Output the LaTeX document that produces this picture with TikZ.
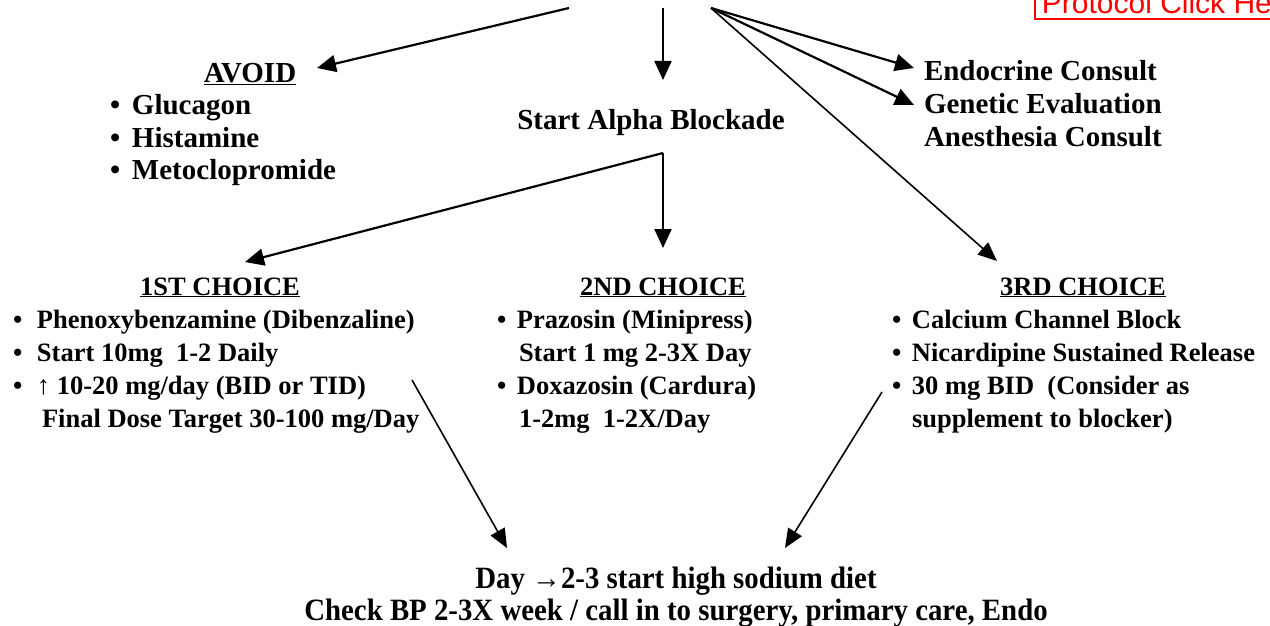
\documentclass[tikz,border=0pt]{standalone}
\usepackage{fontspec}
\usepackage{graphicx}
\setmainfont{Liberation Serif}
\newfontfamily\arialfont{Liberation Sans}
\usetikzlibrary{arrows.meta}
\newcommand\blt[1]{\makebox[#1][l]{•}}
\begin{document}
\begin{tikzpicture}[x=1pt,y=-1pt,
  txt/.style={inner sep=0pt, outer sep=0pt, font=\fontsize{29}{33}\selectfont\bfseries},
  ctxt/.style={inner sep=0pt, outer sep=0pt, font=\fontsize{26.5}{33}\selectfont\bfseries},
  btxt/.style={inner sep=0pt, outer sep=0pt, font=\fontsize{31}{33}\selectfont\bfseries},
  arr/.style={line width=2.2pt, -{Triangle[length=19pt,width=17pt]}},
  arrthin/.style={line width=1.6pt, -{Triangle[length=19pt,width=16pt]}},
]
\useasboundingbox (0,0) rectangle (1270,626);
\clip (0,0) rectangle (1270,626);

% red link box
\node[draw=red, line width=1.8pt, text=red, font=\arialfont\fontsize{30}{30}\selectfont,
  inner xsep=7pt, inner ysep=0pt, text depth=6pt, anchor=south west] (proto) at (1034,20) {Protocol Click Here};

% top group
\node[txt, anchor=base] (avoid) at (250,82) {\underline{AVOID}};
\node[txt, anchor=base west] (avoidlist) at (110,114) {\begin{tabular}[t]{@{}l@{}}\blt{22pt}Glucagon\\ \blt{22pt}Histamine\\ \blt{22pt}Metoclopromide\end{tabular}};
\node[txt, anchor=base] (alpha) at (651,129) {Start Alpha Blockade};
\node[txt, anchor=base west] (consult) at (924,81) {\begin{tabular}[t]{@{}l@{}}Endocrine Consult\\ Genetic Evaluation\\ Anesthesia Consult\end{tabular}};

% choices
\node[ctxt, anchor=base] (c1h) at (220,295) {\underline{1ST CHOICE}};
\node[ctxt, anchor=base west] (c1) at (13,328) {\begin{tabular}[t]{@{}l@{}}\blt{24pt}Phenoxybenzamine (Dibenzaline)\\ \blt{24pt}Start 10mg\ \ 1-2 Daily\\ \blt{24pt}↑ 10-20 mg/day (BID or TID)\\ \hspace*{29pt}Final Dose Target 30-100 mg/Day\end{tabular}};

\node[ctxt, anchor=base] (c2h) at (663,295) {\underline{2ND CHOICE}};
\node[ctxt, anchor=base west] (c2) at (497,328) {\begin{tabular}[t]{@{}l@{}}\blt{20pt}Prazosin (Minipress)\\ \hspace*{22pt}Start 1 mg 2-3X Day\\ \blt{20pt}Doxazosin (Cardura)\\ \hspace*{22pt}1-2mg\ \ 1-2X/Day\end{tabular}};

\node[ctxt, anchor=base] (c3h) at (1083,295) {\underline{3RD CHOICE}};
\node[ctxt, anchor=base west] (c3) at (892,328) {\begin{tabular}[t]{@{}l@{}}\blt{20pt}Calcium Channel Block\\ \blt{20pt}Nicardipine Sustained Release\\ \blt{20pt}30 mg BID\ \ (Consider as\\ \hspace*{20pt}supplement to blocker)\end{tabular}};

% bottom
\node[btxt, anchor=base] (day) at (676,588) {\scalebox{0.93}[1]{Day →2-3 start high sodium diet}};
\node[btxt, anchor=base] (check) at (676,620) {\scalebox{0.93}[1]{Check BP 2-3X week / call in to surgery, primary care, Endo}};

% connector points
\coordinate (s1) at (569,8);
\coordinate (t1) at (317,68);
\coordinate (s2) at (663,8);
\coordinate (t2) at (663,80);
\coordinate (s3) at (711,8);
\coordinate (t3a) at (914,68);
\coordinate (t3b) at (914,105);
\coordinate (t3c) at (997,261);
\coordinate (corner) at (663,153);
\coordinate (t4a) at (245,262);
\coordinate (t4b) at (663,248);
\coordinate (s5a) at (412,380);
\coordinate (t5a) at (507,548);
\coordinate (s5b) at (882,392);
\coordinate (t5b) at (785,548);

\draw[arr] (s1) -- (t1);
\draw[arr] (s2) -- (t2);
\draw[arr] (s3) -- (t3a);
\draw[arr] (s3) -- (t3b);
\draw[arrthin] (s3) -- (t3c);
\draw[arr] (corner) -- (t4a);
\draw[arr] (corner) -- (t4b);
\draw[arrthin] (s5a) -- (t5a);
\draw[arrthin] (s5b) -- (t5b);
\end{tikzpicture}
\end{document}
